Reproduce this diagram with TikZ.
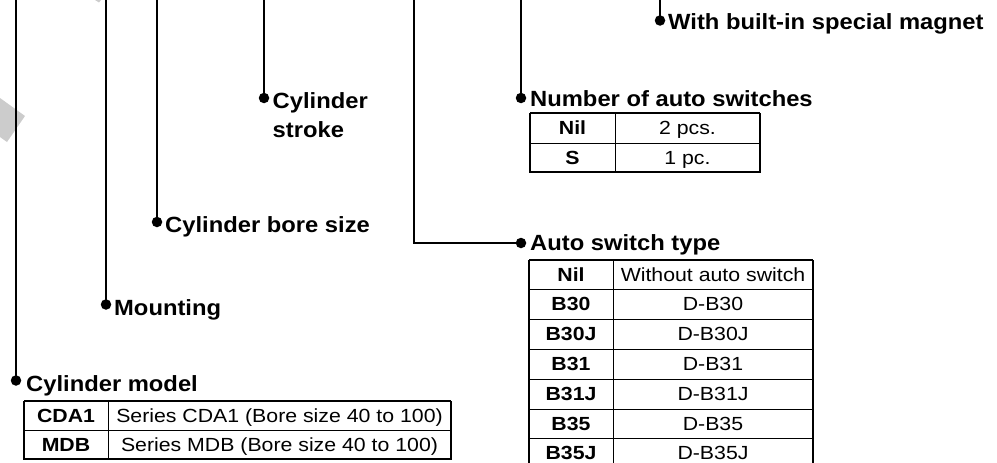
\documentclass[tikz,border=0pt]{standalone}
\usepackage{fontspec}
\newfontfamily\hdfont{Liberation Sans}[FakeStretch=1.08]
\newfontfamily\tbfont{Liberation Sans}[FakeStretch=1.12]
\tikzset{
  lead/.style={line width=1.8pt, black},
  dotn/.style={circle, fill=black, inner sep=0pt, minimum size=10.5pt},
  hd/.style={font=\hdfont\bfseries\fontsize{22}{29}\selectfont, inner sep=0pt, anchor=base west, align=left},
  cellb/.style={font=\tbfont\bfseries\fontsize{19}{22}\selectfont, inner sep=0pt, anchor=base},
  cellr/.style={font=\tbfont\fontsize{19}{22}\selectfont, inner sep=0pt, anchor=base},
  tabin/.style={line width=0.9pt, black},
  tabout/.style={line width=1.3pt, black},
  tabtop/.style={line width=1.9pt, black},
}
\begin{document}
\begin{tikzpicture}[x=1pt,y=-1pt]
\useasboundingbox (0,0) rectangle (997,463);
\clip (0,0) rectangle (997,463);
% faint grey mark
\fill[gray!40] (0,98) -- (25,116) -- (7,142) -- (0,137) -- cycle;
\fill[gray!40] (95,0) -- (101,0) -- (99,2.5) -- cycle;

% leaders
\coordinate (tA) at (16,0);
\coordinate (tB) at (106,0);
\coordinate (tC) at (157,0);
\coordinate (tD) at (264,0);
\coordinate (tE) at (414,0);
\coordinate (cE) at (414,243);
\coordinate (tF) at (521,0);
\coordinate (tG) at (660,0);

\node[dotn] (dA) at (16,380.5) {};
\node[dotn] (dB) at (106,304.5) {};
\node[dotn] (dC) at (157,222) {};
\node[dotn] (dD) at (264,98) {};
\node[dotn] (dE) at (521,243) {};
\node[dotn] (dF) at (521,98) {};
\node[dotn] (dG) at (660,20.5) {};

\draw[lead] (tA) -- (dA.center);
\draw[lead] (tB) -- (dB.center);
\draw[lead] (tC) -- (dC.center);
\draw[lead] (tD) -- (dD.center);
\draw[lead] (tE) -- (cE) -- (dE.center);
\draw[lead] (tF) -- (dF.center);
\draw[lead] (tG) -- (dG.center);

% headings
\node[hd] (hA) at (26,391) {Cylinder model};
\node[hd] (hB) at (114,315) {Mounting};
\node[hd] (hC) at (165,232) {Cylinder bore size};
\node[hd] (hD) at (272.5,137) {Cylinder\\stroke};
\node[hd] (hE) at (530,250.5) {Auto switch type};
\node[hd] (hF) at (530,106) {Number of auto switches};
\node[hd] (hG) at (668,30) {With built-in special magnet};

% table: cylinder model
\draw[tabin] (24,430) -- (451,430);
\draw[tabin] (108,401) -- (108,459);
\draw[tabout] (24,401) -- (24,459) -- (451,459) -- (451,401);
\draw[tabtop] (24,401) -- (451,401);
\node[cellb] (mA1) at (66,422.3) {CDA1};
\node[cellr] (mA2) at (279.5,422.3) {Series CDA1 (Bore size 40 to 100)};
\node[cellb] (mB1) at (66,451.3) {MDB};
\node[cellr] (mB2) at (279.5,451.3) {Series MDB (Bore size 40 to 100)};

% table: number of auto switches
\draw[tabin] (530,143) -- (760,143);
\draw[tabin] (615,113) -- (615,172);
\draw[tabout] (530,113) -- (530,172) -- (760,172) -- (760,113);
\draw[tabtop] (530,113) -- (760,113);
\node[cellb] (nA1) at (572.5,134.8) {Nil};
\node[cellr] (nA2) at (687.5,134.8) {2 pcs.};
\node[cellb] (nB1) at (572.5,164.3) {S};
\node[cellr] (nB2) at (687.5,164.3) {1 pc.};

% table: auto switch type
\foreach \yy in {289,319,349,379,409,438} {\draw[tabin] (529,\yy) -- (813,\yy);}
\draw[tabin] (613,260) -- (613,470);
\draw[tabout] (529,260) -- (529,470);
\draw[tabout] (813,260) -- (813,470);
\draw[tabtop] (529,260) -- (813,260);
\node[cellb] (s1a) at (571,281.3) {Nil};
\node[cellr] (s1b) at (713,281.3) {Without auto switch};
\node[cellb] (s2a) at (571,310.8) {B30};
\node[cellr] (s2b) at (713,310.8) {D-B30};
\node[cellb] (s3a) at (571,340.8) {B30J};
\node[cellr] (s3b) at (713,340.8) {D-B30J};
\node[cellb] (s4a) at (571,370.8) {B31};
\node[cellr] (s4b) at (713,370.8) {D-B31};
\node[cellb] (s5a) at (571,400.8) {B31J};
\node[cellr] (s5b) at (713,400.8) {D-B31J};
\node[cellb] (s6a) at (571,430.3) {B35};
\node[cellr] (s6b) at (713,430.3) {D-B35};
\node[cellb] (s7a) at (571,459.8) {B35J};
\node[cellr] (s7b) at (713,459.8) {D-B35J};
\end{tikzpicture}
\end{document}
